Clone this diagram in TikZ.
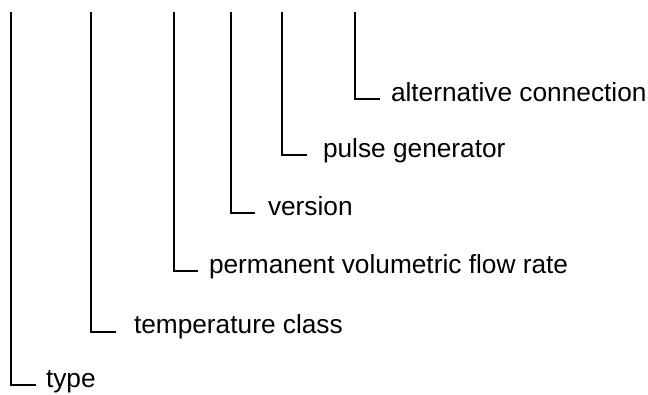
\documentclass[tikz,border=0pt]{standalone}
\usepackage{fontspec}
\setmainfont{Liberation Sans}
\begin{document}
\begin{tikzpicture}[x=0.75pt, y=-0.75pt, line width=1.5pt,
 code label/.style = {anchor=base west, inner sep=0pt, font=\fontsize{19.7}{23}\selectfont},
 code line/.style = {draw, black}]
\useasboundingbox (0,0) rectangle (648,394);
% top ends of the lines
\coordinate (T1) at (11,12);
\coordinate (T2) at (91,12);
\coordinate (T3) at (174,12);
\coordinate (T4) at (231,12);
\coordinate (T5) at (282,12);
\coordinate (T6) at (355,12);
% labels
\node[code label] (type) at (45,387) {type};
\node[code label] (temp) at (133,333) {temperature class};
\node[code label] (flow) at (208,273) {permanent volumetric flow rate};
\node[code label] (vers) at (267,215) {version};
\node[code label] (pulse) at (322,157) {pulse generator};
\node[code label] (alt) at (390,101) {alternative connection};
% corner lines
\coordinate (C1) at (36,385);
\coordinate (C2) at (116,332);
\coordinate (C3) at (198,271);
\coordinate (C4) at (255,213);
\coordinate (C5) at (307,155);
\coordinate (C6) at (380,99);
\draw[code line] (T1) |- (C1);
\draw[code line] (T2) |- (C2);
\draw[code line] (T3) |- (C3);
\draw[code line] (T4) |- (C4);
\draw[code line] (T5) |- (C5);
\draw[code line] (T6) |- (C6);
\end{tikzpicture}
\end{document}
